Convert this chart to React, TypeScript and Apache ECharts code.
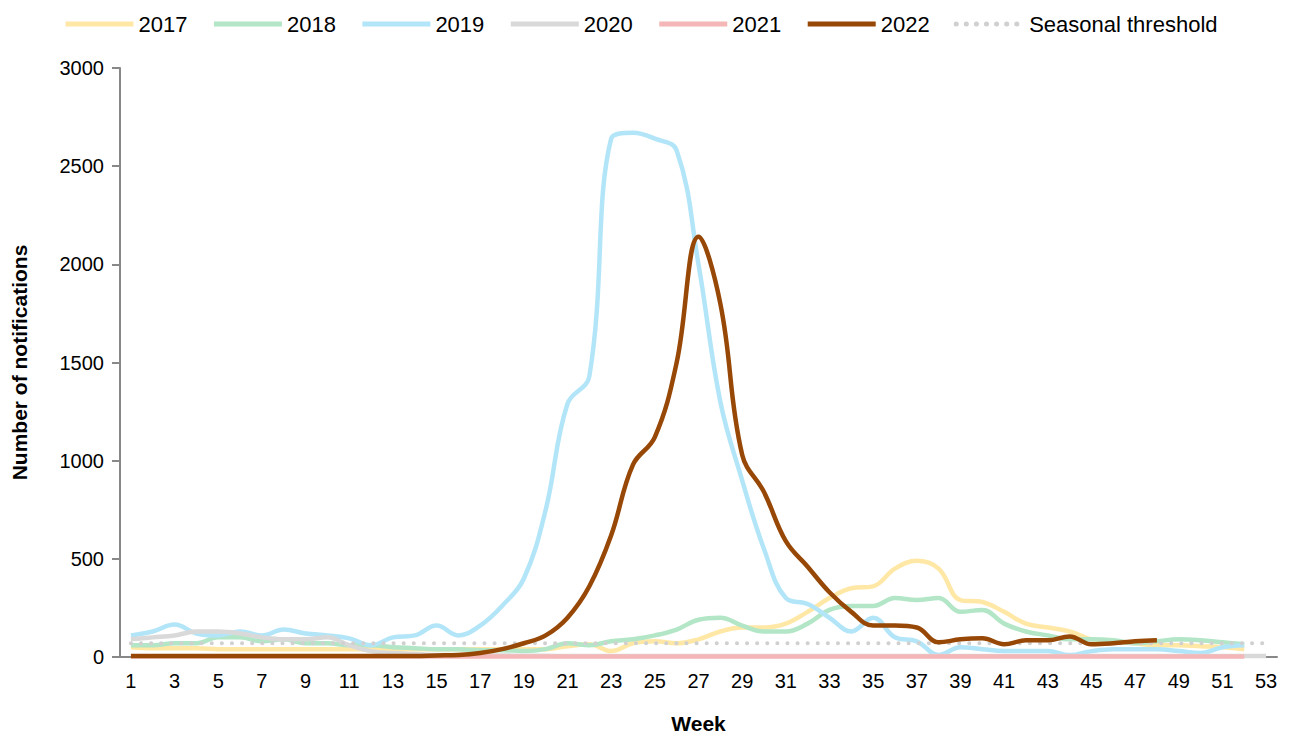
import React, { useEffect, useRef } from "react";
import * as echarts from "echarts";

const weeks = Array.from({ length: 53 }, (_, i) => String(i + 1));
const y2017 = [50,45,45,45,40,40,40,40,40,40,40,40,40,40,40,40,40,40,40,40,55,65,30,70,80,70,90,130,150,150,170,230,300,350,360,450,490,450,290,280,230,170,150,130,90,80,70,60,60,55,50,40];
const y2018 = [60,60,70,70,100,100,80,90,70,70,60,60,50,45,40,40,35,35,30,40,70,60,80,90,110,140,190,200,160,130,130,170,240,260,260,300,290,300,230,240,170,130,110,90,90,85,70,80,90,85,75,65];
const y2019 = [110,130,165,120,110,130,110,140,120,110,95,60,100,110,160,110,160,260,400,750,1290,1430,2640,2670,2640,2580,2000,1300,900,550,300,270,200,130,200,100,80,10,50,40,30,30,30,10,30,40,40,40,30,20,50,60];
const y2020 = [90,100,110,130,130,120,100,90,90,100,60,30,20,15,10,10,8,8,6,6,5,5,5,5,5,5,5,5,5,5,5,5,5,5,5,5,5,5,5,5,5,5,5,5,5,5,5,5,5,5,5,5,5];
const y2021 = [2,2,2,2,2,2,2,2,2,2,2,2,2,2,2,2,2,2,2,2,2,2,2,2,2,2,2,2,2,2,2,2,2,2,2,2,2,2,2,2,2,2,2,2,2,2,2,2,2,2,2,2];
const y2022 = [5,5,5,5,5,5,5,5,5,5,5,5,5,5,8,10,20,40,70,110,200,360,620,980,1120,1500,2140,1800,1030,840,590,460,330,230,160,160,150,75,90,95,65,85,85,105,65,70,80,85];
const threshold = weeks.map(() => 70);

export default function App() {
  const ref = useRef<HTMLDivElement>(null);
  useEffect(() => {
    const chart = echarts.init(ref.current!, undefined, { renderer: "svg" });
    const mk = (name: string, data: number[], color: string, width = 4.5) => ({
      name, type: "line", data, smooth: 0.4, showSymbol: false, symbol: "none",
      lineStyle: { color, width }, itemStyle: { color },
    });
    chart.setOption({
      animation: false,
      textStyle: { fontFamily: "Liberation Sans, Arial, sans-serif" },
      legend: {
        top: 0, left: 50, itemWidth: 68, itemHeight: 12, itemGap: 24,
        itemStyle: { opacity: 0 },
        lineStyle: { width: 5 },
        textStyle: { fontSize: 22, color: "#000" },
        data: ["2017", "2018", "2019", "2020", "2021", "2022", "Seasonal threshold"],
      },
      grid: { left: 112, right: 10, top: 60, bottom: 79, outerBoundsMode: "none", containLabel: false },
      xAxis: {
        type: "category", data: weeks, boundaryGap: true,
        name: "Week", nameLocation: "middle", nameGap: 56,
        nameTextStyle: { fontSize: 21, fontWeight: "bold", color: "#000" },
        axisLine: { lineStyle: { color: "#888", width: 2 } },
        axisTick: { interval: 0, length: 8, lineStyle: { color: "#888", width: 2 } },
        axisLabel: { interval: 1, fontSize: 20, color: "#000", margin: 14 },
      },
      yAxis: {
        type: "value", min: 0, max: 3000, interval: 500,
        name: "Number of notifications", nameLocation: "middle", nameGap: 90,
        nameTextStyle: { fontSize: 21, fontWeight: "bold", color: "#000" },
        axisLine: { show: true, lineStyle: { color: "#888", width: 2 } },
        axisTick: { show: true, length: 8, lineStyle: { color: "#888", width: 2 } },
        splitLine: { show: false },
        axisLabel: { fontSize: 20, color: "#000", margin: 16, formatter: (v: number) => String(v) },
      },
      series: [
        mk("2017", y2017, "#ffe7a6"),
        mk("2018", y2018, "#b2e6c6"),
        mk("2019", y2019, "#b3e5f8"),
        mk("2020", y2020, "#d9d9d9"),
        mk("2021", y2021, "#f4b6b6"),
        { ...mk("2022", y2022, "#974706", 4.5), z: 5 },
        { name: "Seasonal threshold", type: "line", data: threshold, showSymbol: false, symbol: "none",
          lineStyle: { color: "#d0d0d0", width: 4, type: [0.1, 10], cap: "round" }, itemStyle: { color: "#d0d0d0" } },
      ],
    });
    return () => chart.dispose();
  }, []);
  return <div ref={ref} style={{ width: 1279, height: 728 }} />;
}
